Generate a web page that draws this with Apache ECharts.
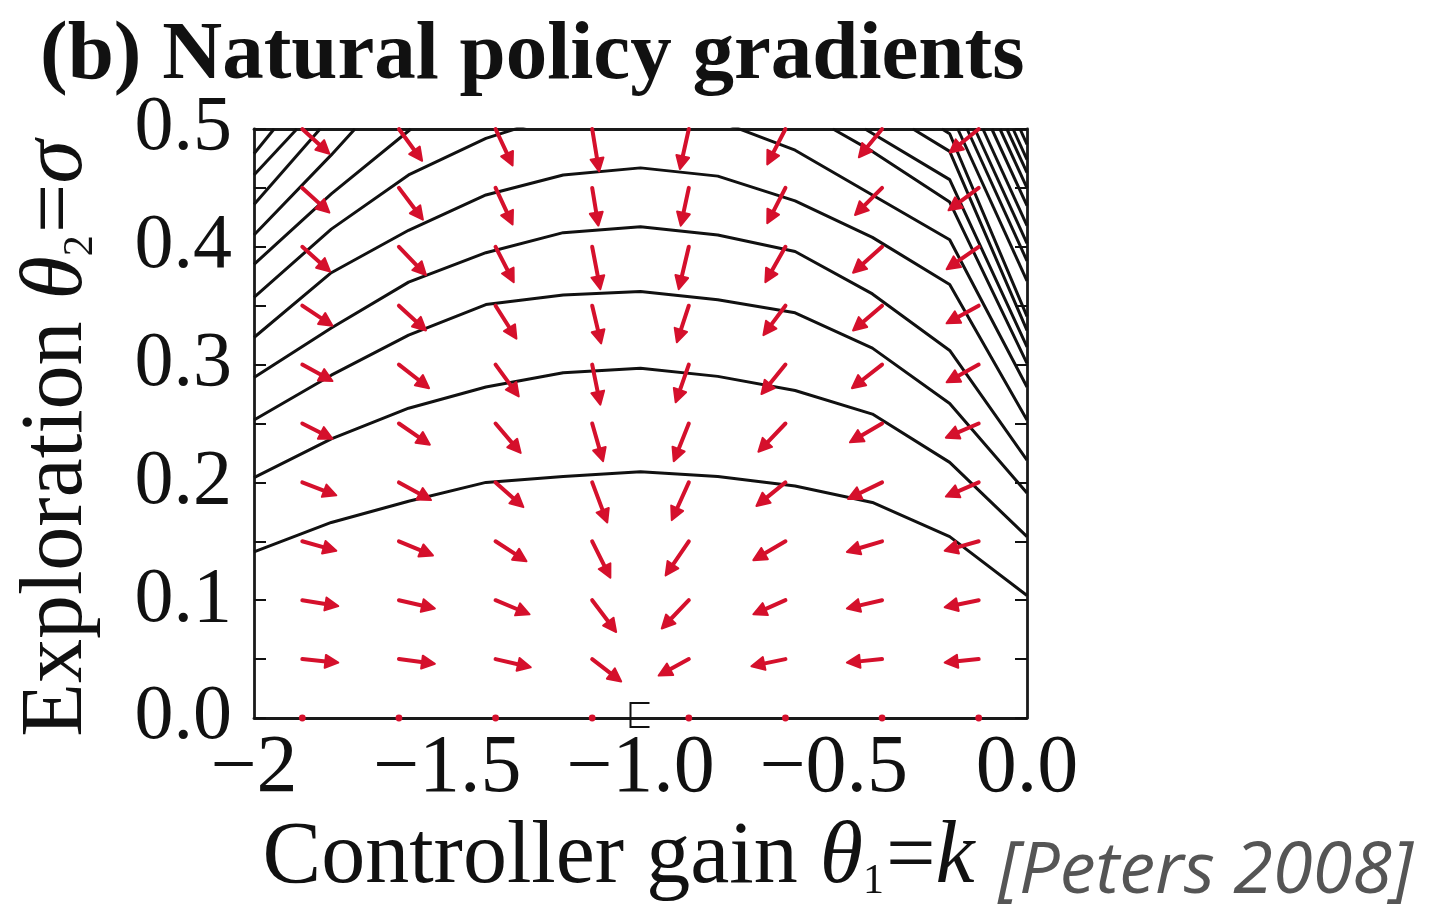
<!DOCTYPE html>
<html>
<head>
<meta charset="utf-8">
<title>Natural policy gradients</title>
<script src="https://cdn.jsdelivr.net/npm/echarts@6/dist/echarts.min.js"></script>
<style>
  html, body { margin: 0; padding: 0; background: #ffffff; }
  #chart { width: 1436px; height: 915px; }
</style>
</head>
<body>
<div id="chart"></div>
<script>
// ---- Axis ticks -------------------------------------------------------
const X_TICK_VALUES = [-2, -1.5, -1.0, -0.5, 0];
const X_TICK_LABELS = ['\u22122', '\u22121.5', '\u22121.0', '\u22120.5', '0.0'];
const Y_TICK_LABELS = ['0.0', '0.1', '0.2', '0.3', '0.4', '0.5'];

// ---- Gradient field: sample points and natural-gradient steps ----------
const K_COLS = [-1.875, -1.625, -1.375, -1.125, -0.875, -0.625, -0.375, -0.125];
const SIGMA_ROWS = [0.00, 0.05, 0.10, 0.15, 0.20, 0.25, 0.30, 0.35, 0.40, 0.45, 0.50];
// step along the gain axis, one row per SIGMA_ROWS entry
const STEP_K = [
  [0, 0, 0, 0, 0, 0, 0, 0],
  [0.093, 0.093, 0.091, 0.075, -0.078, -0.088, -0.091, -0.088],
  [0.093, 0.093, 0.088, 0.062, -0.070, -0.083, -0.091, -0.088],
  [0.088, 0.088, 0.080, 0.047, -0.060, -0.083, -0.091, -0.088],
  [0.088, 0.083, 0.072, 0.039, -0.044, -0.075, -0.088, -0.085],
  [0.078, 0.080, 0.065, 0.028, -0.039, -0.070, -0.083, -0.085],
  [0.078, 0.078, 0.060, 0.021, -0.034, -0.062, -0.078, -0.083],
  [0.078, 0.070, 0.054, 0.023, -0.031, -0.057, -0.075, -0.083],
  [0.072, 0.070, 0.047, 0.021, -0.026, -0.052, -0.075, -0.083],
  [0.070, 0.062, 0.044, 0.016, -0.021, -0.047, -0.070, -0.078],
  [0.070, 0.060, 0.044, 0.018, -0.023, -0.047, -0.060, -0.075]
];
// step along the exploration axis
const STEP_SIGMA = [
  [0, 0, 0, 0, 0, 0, 0, 0],
  [-0.003, -0.004, -0.007, -0.019, -0.014, -0.006, -0.003, -0.003],
  [-0.005, -0.007, -0.012, -0.027, -0.024, -0.012, -0.007, -0.006],
  [-0.008, -0.012, -0.017, -0.031, -0.029, -0.016, -0.009, -0.008],
  [-0.011, -0.015, -0.021, -0.034, -0.032, -0.020, -0.014, -0.012],
  [-0.013, -0.018, -0.025, -0.032, -0.032, -0.024, -0.016, -0.012],
  [-0.014, -0.020, -0.027, -0.034, -0.032, -0.025, -0.020, -0.015],
  [-0.017, -0.021, -0.028, -0.032, -0.031, -0.025, -0.021, -0.015],
  [-0.021, -0.024, -0.030, -0.036, -0.036, -0.030, -0.022, -0.019],
  [-0.021, -0.027, -0.031, -0.032, -0.032, -0.030, -0.023, -0.019],
  [-0.021, -0.027, -0.031, -0.036, -0.034, -0.030, -0.024, -0.020]
];

// ---- Expected-return contours -----------------------------------------
// dome-shaped levels, sampled on the gain grid below
const K_GRID = [-2, -1.8, -1.6, -1.4, -1.2, -1.0, -0.8, -0.6, -0.4, -0.2, 0];
const LEVEL_A = [0.141, 0.166, 0.184, 0.200, 0.205, 0.209, 0.205, 0.197, 0.183, 0.154, 0.104];
const LEVEL_B = [0.204, 0.237, 0.263, 0.281, 0.293, 0.297, 0.290, 0.278, 0.258, 0.217, 0.154];
const LEVEL_C = [0.253, 0.291, 0.325, 0.351, 0.359, 0.362, 0.355, 0.344, 0.314, 0.267, 0.191];
const LEVEL_D = [0.289, 0.331, 0.370, 0.395, 0.412, 0.417, 0.410, 0.396, 0.360, 0.312, 0.219];
const LEVEL_E = [0.323, 0.378, 0.414, 0.444, 0.461, 0.467, 0.460, 0.439, 0.408, 0.368, 0.253];
const LEVEL_F = [0.357, 0.415, 0.461, 0.492, 0.513, 0.516, 0.507, 0.482, 0.444, 0.406, 0.281];
// higher levels that leave through the top edge: [k, sigma] points
const LEFT_LEVELS = [
  [[-2, 0.385], [-1.8, 0.445], [-1.594, 0.5]],
  [[-2, 0.410], [-1.8, 0.478], [-1.739, 0.5]],
  [[-2, 0.436], [-1.829, 0.5]],
  [[-2, 0.461], [-1.889, 0.5]],
  [[-2, 0.479], [-1.948, 0.5]]
];
const RIGHT_LEVELS = [
  [[-0.502, 0.5], [-0.4, 0.481], [-0.2, 0.438], [0, 0.301]],
  [[-0.419, 0.5], [-0.2, 0.457], [0, 0.315]],
  [[-0.295, 0.5], [-0.2, 0.481], [0, 0.329]],
  [[-0.220, 0.5], [-0.2, 0.496], [0, 0.341]],
  [[-0.179, 0.5], [0, 0.371]],
  [[-0.155, 0.5], [0, 0.388]],
  [[-0.135, 0.5], [0, 0.403]],
  [[-0.114, 0.5], [0, 0.418]],
  [[-0.091, 0.5], [0, 0.435]],
  [[-0.070, 0.5], [0, 0.450]],
  [[-0.052, 0.5], [0, 0.463]],
  [[-0.036, 0.5], [0, 0.474]],
  [[-0.018, 0.5], [0, 0.487]]
];
// optimum marker on the gain axis
const OPTIMUM = [[-1.0, 0]];

// ---- Build series data ------------------------------------------------
const RED = '#d5102c';
const INK = '#111111';
const SERIF = '"Liberation Serif", "DejaVu Serif", serif';

const arrowData = [];
SIGMA_ROWS.forEach(function (s, r) {
  K_COLS.forEach(function (k, c) {
    arrowData.push([k, s, STEP_K[r][c], STEP_SIGMA[r][c]]);
  });
});

const domeLevels = [LEVEL_A, LEVEL_B, LEVEL_C, LEVEL_D, LEVEL_E, LEVEL_F];
const contourLines = domeLevels.map(function (lv) {
  return lv.map(function (s, i) { return [K_GRID[i], s]; });
}).concat(LEFT_LEVELS, RIGHT_LEVELS);

const contourSeries = contourLines.map(function (pts) {
  return {
    type: 'line',
    data: pts,
    symbol: 'none',
    silent: true,
    clip: true,
    z: 2,
    lineStyle: { color: INK, width: 3 }
  };
});

function renderArrow(params, api) {
  const k = api.value(0), s = api.value(1), dk = api.value(2), ds = api.value(3);
  const p0 = api.coord([k, s]);
  if (dk === 0 && ds === 0) {
    return { type: 'circle', shape: { cx: p0[0], cy: p0[1], r: 3.4 }, style: { fill: RED } };
  }
  const p1 = api.coord([k + dk, s + ds]);
  const vx = p1[0] - p0[0], vy = p1[1] - p0[1];
  const len = Math.sqrt(vx * vx + vy * vy);
  const ux = vx / len, uy = vy / len;
  const hl = 13, hw = 6.5;
  const bx = p1[0] - ux * hl, by = p1[1] - uy * hl;
  return {
    type: 'group',
    children: [
      {
        type: 'line',
        shape: { x1: p0[0], y1: p0[1], x2: bx + ux * 3, y2: by + uy * 3 },
        style: { stroke: RED, lineWidth: 4, lineCap: 'round' }
      },
      {
        type: 'polygon',
        shape: { points: [[p1[0], p1[1]], [bx - uy * hw, by + ux * hw], [bx + uy * hw, by - ux * hw]] },
        style: { fill: RED, stroke: RED, lineWidth: 2, lineJoin: 'round' }
      }
    ]
  };
}

function renderOptimum(params, api) {
  const p = api.coord([api.value(0), api.value(1)]);
  return {
    type: 'polyline',
    shape: { points: [[p[0] + 9, p[1] - 15], [p[0] - 10, p[1] - 15], [p[0] - 10, p[1] + 9], [p[0] + 9, p[1] + 9]] },
    style: { stroke: INK, lineWidth: 2, fill: null }
  };
}

const nameRich = {
  t: { fontFamily: SERIF, fontSize: 88, color: INK },
  i: { fontFamily: SERIF, fontSize: 88, fontStyle: 'italic', color: INK },
  s: { fontFamily: SERIF, fontSize: 42, color: INK, verticalAlign: 'bottom', padding: [0, 2, 0, 0] }
};

const frameLine = { onZero: false, lineStyle: { color: '#1a1a1a', width: 2.8 } };
const innerTick = { show: true, inside: true, length: 12, lineStyle: { color: INK, width: 2 } };
const innerMinor = { show: true, splitNumber: 2, length: 12, lineStyle: { color: INK, width: 2 } };

const chart = echarts.init(document.getElementById('chart'), null, { renderer: 'canvas' });
chart.setOption({
  animation: false,
  backgroundColor: '#ffffff',
  grid: { left: 254, top: 129, width: 773, height: 589, containLabel: false },
  xAxis: [
    {
      type: 'value', min: -2, max: 0, interval: 0.5, position: 'bottom',
      axisLine: frameLine,
      axisTick: { show: false },
      splitLine: { show: false },
      axisLabel: {
        margin: 10, color: INK, fontFamily: SERIF, fontSize: 82,
        formatter: function (v) {
          const i = X_TICK_VALUES.findIndex(function (t) { return Math.abs(t - v) < 1e-9; });
          return i >= 0 ? X_TICK_LABELS[i] : '';
        }
      },
      name: '{t|Controller gain }{i|θ}{s|1}{t|=}{i|k}',
      nameLocation: 'middle', nameGap: 92,
      nameTextStyle: { rich: nameRich, padding: [0, 44, 0, 0] }
    },
    {
      type: 'value', min: -2, max: 0, position: 'top',
      axisLine: frameLine, axisTick: { show: false },
      axisLabel: { show: false }, splitLine: { show: false }
    }
  ],
  yAxis: [
    {
      type: 'value', min: 0, max: 0.5, interval: 0.1, position: 'left',
      axisLine: frameLine,
      axisTick: innerTick,
      minorTick: innerMinor,
      splitLine: { show: false },
      axisLabel: {
        margin: 22, color: INK, fontFamily: SERIF, fontSize: 78,
        formatter: function (v) { return Y_TICK_LABELS[Math.round(v * 10)]; }
      },
      name: '{t|Exploration }{i|θ}{s|2}{t|=}{i|σ}',
      nameLocation: 'middle', nameGap: 152,
      nameTextStyle: { rich: nameRich, padding: [0, 30, 0, 0] }
    },
    {
      type: 'value', min: 0, max: 0.5, interval: 0.1, position: 'right',
      axisLine: frameLine,
      axisTick: innerTick,
      minorTick: innerMinor,
      axisLabel: { show: false }, splitLine: { show: false }
    }
  ],
  graphic: [
    {
      type: 'text', left: 40, top: 15, z: 10,
      style: { text: '(b) Natural policy gradients', font: 'bold 83px ' + SERIF, fill: INK }
    },
    {
      type: 'text', left: 998, top: 836, z: 10,
      style: { text: '[Peters 2008]', font: 'italic 72px "Open Sans", "Noto Sans", sans-serif', fill: '#555555' }
    }
  ],
  series: contourSeries.concat([
    {
      type: 'custom',
      renderItem: renderArrow,
      data: arrowData,
      z: 4,
      silent: true
    },
    {
      type: 'custom',
      renderItem: renderOptimum,
      data: OPTIMUM,
      z: 5,
      silent: true,
      clip: false
    }
  ])
});
</script>
</body>
</html>
